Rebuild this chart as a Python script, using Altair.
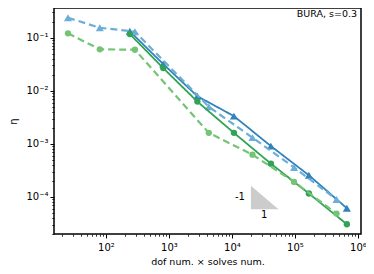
import altair as alt
import pandas as pd

# ---- data ----
x_solid = [240, 812, 2830, 10770, 41600, 166700, 668000]
eta_blue_solid = [0.132, 0.0319, 0.0079, 0.00333, 9.06e-4, 2.56e-4, 6.12e-5]
eta_green_solid = [0.117, 0.0268, 0.00625, 0.00161, 4.23e-4, 1.16e-4, 3.05e-5]

x_dashed = [25, 80, 289, 4300, 21200, 97000, 458000]
eta_blue_dashed = [0.238, 0.154, 0.130, 0.00499, 0.00131, 3.59e-4, 8.93e-5]
eta_green_dashed = [0.121, 0.0604, 0.0594, 0.00161, 6.25e-4, 1.92e-4, 4.86e-5]

x_ticks = [m * 10 ** k for k in range(1, 7) for m in range(1, 10) if 15 <= m * 10 ** k <= 1.12e6]
y_ticks = [m * 10.0 ** k for k in range(-5, 0) for m in range(1, 10) if 2.0e-5 <= m * 10.0 ** k <= 0.363]

# slope triangle (annotation, data coordinates)
tri_x = [2.0e4, 5.5e4]
tri_top = [1.62e-4, 5.86e-5]
tri_base = [5.86e-5, 5.86e-5]

FONT = "DejaVu Sans"
xscale = alt.Scale(type="log", domain=[15, 1.12e6], nice=False)
yscale = alt.Scale(type="log", domain=[2.0e-5, 0.363], nice=False)

is_major = "abs(log(datum.value)/LN10 - round(log(datum.value)/LN10)) < 0.001"
lab = ("(" + is_major + ") ? ('10' + (round(log(datum.value)/LN10) < 0 ? '⁻' : '') + "
       "['⁰','¹','²','³','⁴','⁵','⁶'][abs(round(log(datum.value)/LN10))]) : ''")

tick_size = {"condition": {"test": is_major, "value": 4}, "value": 2.2}
tick_width = {"condition": {"test": is_major, "value": 1}, "value": 0.8}

xaxis = alt.Axis(values=x_ticks, labelExpr=lab, tickSize=tick_size, tickWidth=tick_width,
                 tickColor="black", domain=False, grid=False, labelFontSize=10,
                 labelColor="black", labelPadding=4, labelFlush=False, labelOverlap=False,
                 title="dof num. × solves num.", titleFontSize=9.5, titleFontWeight="normal",
                 titleColor="black", titlePadding=4, orient="bottom")
yaxis = alt.Axis(values=y_ticks, labelExpr=lab, tickSize=tick_size, tickWidth=tick_width,
                 tickColor="black", domain=False, grid=False, labelFontSize=10,
                 labelColor="black", labelPadding=2, labelFlush=False, labelOverlap=False,
                 title="η", titleFontSize=10, titleFontWeight="normal", titleColor="black",
                 titlePadding=7, orient="left")


def series(xv, yv, color, shape, dashed):
    df = pd.DataFrame({"x": xv, "eta": yv})
    base = alt.Chart(df).encode(
        x=alt.X("x:Q", scale=xscale, axis=xaxis),
        y=alt.Y("eta:Q", scale=yscale, axis=yaxis),
    )
    line = base.mark_line(color=color, strokeWidth=2.2 if dashed else 1.8,
                          strokeDash=[7, 4] if dashed else [1, 0])
    pts = base.mark_point(shape=shape, filled=True, size=40 if shape == "circle" else 65,
                          color=color, opacity=1)
    return line + pts


tri_df = pd.DataFrame({"x": tri_x, "top": tri_top, "base": tri_base})
triangle = alt.Chart(tri_df).mark_area(color="#cccccc", opacity=1).encode(
    x=alt.X("x:Q", scale=xscale, axis=xaxis),
    y=alt.Y("top:Q", scale=yscale, axis=yaxis),
    y2="base:Q",
)

lab_df = pd.DataFrame({"x": [1.34e4, 3.26e4], "y": [9.86e-5, 4.52e-5], "t": ["-1", "1"]})
labels = alt.Chart(lab_df).mark_text(fontSize=10, font=FONT, color="black").encode(
    x=alt.X("x:Q", scale=xscale, axis=xaxis),
    y=alt.Y("y:Q", scale=yscale, axis=yaxis),
    text="t:N",
)

title_txt = alt.Chart(pd.DataFrame({"t": ["BURA, s=0.3"]})).mark_text(
    fontSize=9.5, font=FONT, color="black", align="right", baseline="middle"
).encode(x=alt.value(303), y=alt.value(6), text="t:N")

chart = alt.layer(
    triangle,
    series(x_solid, eta_blue_solid, "#3182bd", "triangle-up", False),
    series(x_dashed, eta_blue_dashed, "#6baed6", "triangle-up", True),
    series(x_solid, eta_green_solid, "#31a354", "circle", False),
    series(x_dashed, eta_green_dashed, "#74c476", "circle", True),
    labels,
    title_txt,
).properties(
    width=307, height=226,
    autosize=alt.AutoSizeParams(type="none"),
    padding={"left": 46, "top": 0, "right": 5, "bottom": 32},
).configure(font=FONT).configure_view(stroke="black", strokeWidth=1.5)

chart.save("out.html", embed_options={"renderer": "svg", "actions": False})
